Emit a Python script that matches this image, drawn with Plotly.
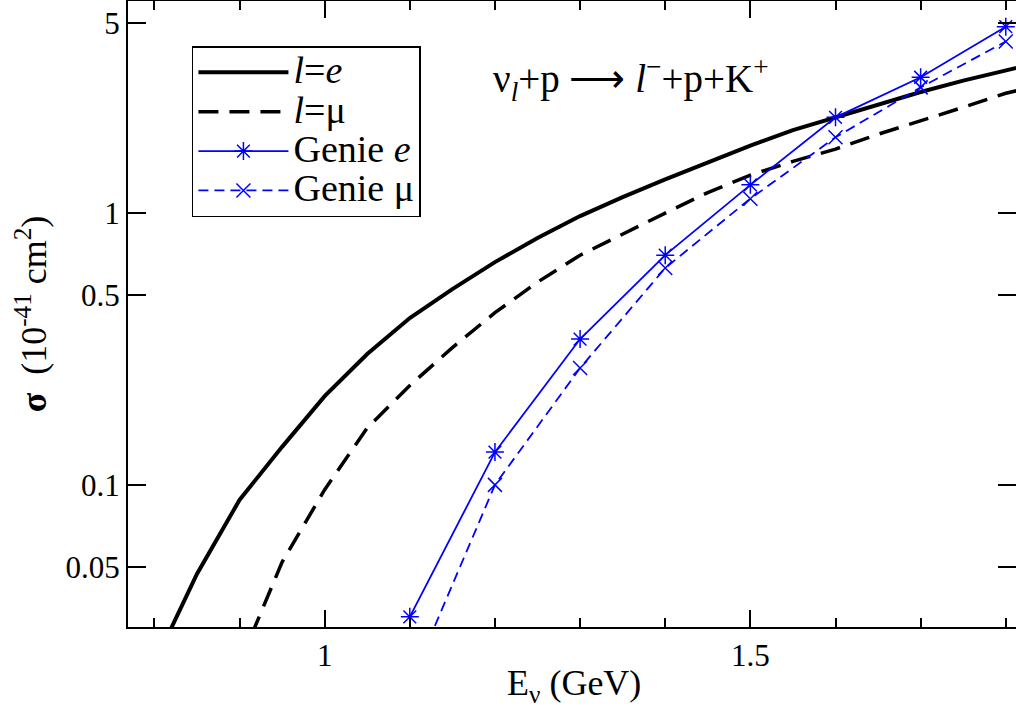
import plotly.graph_objects as go

# Theory curves (sampled every 0.05 GeV)
E_theory = [0.80, 0.85, 0.90, 0.95, 1.00, 1.05, 1.10, 1.15, 1.20, 1.25, 1.30, 1.35,
            1.40, 1.45, 1.50, 1.55, 1.60, 1.65, 1.70, 1.75, 1.80, 1.85]
sigma_e = [0.022, 0.047, 0.088, 0.138, 0.212, 0.303, 0.411, 0.525, 0.66, 0.81, 0.975, 1.145,
           1.33, 1.54, 1.77, 2.02, 2.25, 2.51, 2.79, 3.07, 3.35, 3.65]
E_theory_mu = [0.90, 0.95, 1.00, 1.05, 1.10, 1.15, 1.20, 1.25, 1.30, 1.35, 1.40, 1.45,
               1.50, 1.55, 1.60, 1.65, 1.70, 1.75, 1.80, 1.85]
sigma_mu = [0.022, 0.052, 0.096, 0.162, 0.232, 0.32, 0.43, 0.557, 0.70, 0.84, 1.0, 1.19,
            1.38, 1.55, 1.72, 1.95, 2.18, 2.45, 2.76, 3.0]

# GENIE points
E_genie = [1.1, 1.2, 1.3, 1.4, 1.5, 1.6, 1.7, 1.8]
genie_e = [0.0327, 0.132, 0.344, 0.70, 1.27, 2.25, 3.16, 4.85]
genie_mu = [0.0184, 0.100, 0.269, 0.628, 1.13, 1.90, 2.90, 4.28]

y_tickvals = [0.05, 0.1, 0.5, 1, 5]
y_ticktext = ["0.05", "0.1", "0.5", "1", "5"]

names = ["<i>l</i>=<i>e</i>", "<i>l</i>=μ", "Genie <i>e</i>", "Genie μ"]

FONT = "Liberation Serif"
BLUE = "#0000ff"


def big(s):
    return '<span style="font-size:38px">' + s + '</span>'


fig = go.Figure()
fig.add_trace(go.Scatter(x=E_theory, y=sigma_e, mode="lines",
                         line=dict(color="black", width=4),
                         name=big(names[0])))
fig.add_trace(go.Scatter(x=E_theory_mu, y=sigma_mu, mode="lines",
                         line=dict(color="black", width=3.5, dash="20px,11px"),
                         name=big(names[1])))
fig.add_trace(go.Scatter(x=E_genie, y=genie_e, mode="lines+markers",
                         line=dict(color=BLUE, width=1.8),
                         marker=dict(symbol="asterisk-open", size=15,
                                     line=dict(color=BLUE, width=1.5)),
                         name=big(names[2])))
fig.add_trace(go.Scatter(x=E_genie, y=genie_mu, mode="lines+markers",
                         line=dict(color=BLUE, width=1.8, dash="10px,6px"),
                         marker=dict(symbol="x-thin-open", size=14,
                                     line=dict(color=BLUE, width=1.5)),
                         name=big(names[3])))

fig.add_annotation(
    text="ν<sub><i>l</i></sub>+p ⟶ <i>l</i><sup>−</sup>+p+K<sup>+</sup>",
    x=0.567, y=0.922, xref="paper", yref="paper", showarrow=False,
    font=dict(family=FONT, size=39, color="black"))

# x-axis title as annotation for precise placement
fig.add_annotation(
    text="E<sub>ν</sub> (GeV)",
    x=0.4245, y=-0.093, xref="paper", yref="paper", xanchor="left", yanchor="middle",
    showarrow=False, font=dict(family=FONT, size=36, color="black"))

fig.update_layout(
    width=1016, height=708,
    margin=dict(l=128, r=0, t=1, b=81),
    paper_bgcolor="white", plot_bgcolor="white",
    font=dict(family=FONT, size=31, color="black"),
    showlegend=True,
    legend=dict(x=0.072, y=0.928, xanchor="left", yanchor="top",
                bgcolor="white", bordercolor="black", borderwidth=1.5,
                font=dict(family=FONT, size=28), itemwidth=90,
                tracegroupgap=0, itemsizing="trace"),
)
fig.update_xaxes(
    range=[0.769, 1.812], showgrid=False, zeroline=False, automargin=False,
    showline=True, linecolor="black", linewidth=2, mirror="allticks",
    ticks="inside", ticklen=17, tickwidth=1.5, tickcolor="black",
    tick0=0, dtick=0.5,
    minor=dict(ticks="inside", ticklen=9, tickwidth=1.5, tickcolor="black", dtick=0.1, showgrid=False),
    tickfont=dict(family=FONT, size=31),
)
fig.update_yaxes(
    type="log", range=[-1.5229, 0.7803], showgrid=False, zeroline=False, automargin=False,
    showline=True, linecolor="black", linewidth=2, mirror="allticks",
    ticks="inside", ticklen=18, tickwidth=1.5, tickcolor="black",
    tickvals=y_tickvals, ticktext=y_ticktext,
    title=dict(text="<b>σ</b>  (10<sup>-41</sup> cm<sup>2</sup>)", font=dict(family=FONT, size=36), standoff=8),
    tickfont=dict(family=FONT, size=31),
)

fig.write_html("out.html", config={"displayModeBar": False},
               post_script="document.body.style.margin='0';")
